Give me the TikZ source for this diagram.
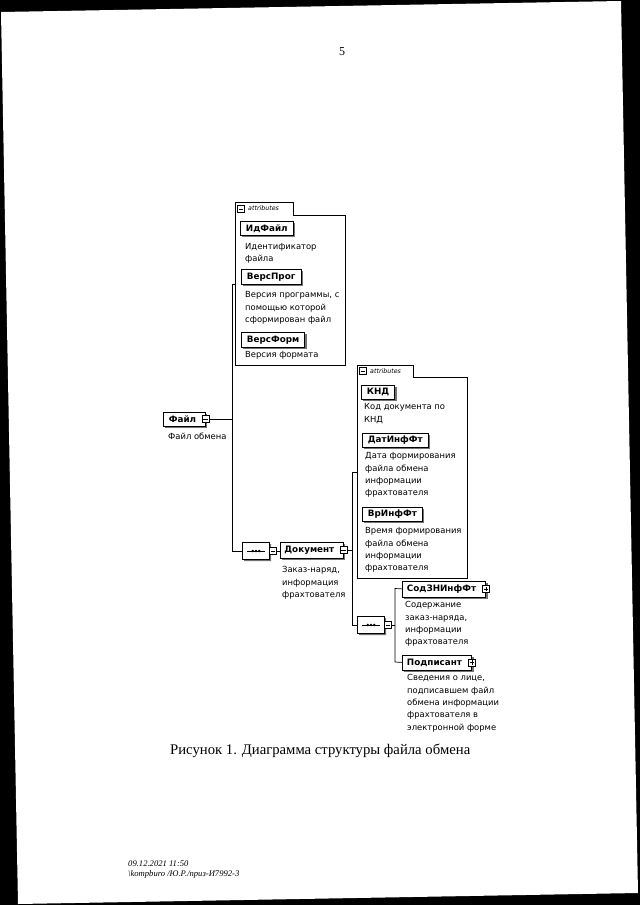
\documentclass[tikz,border=0pt]{standalone}
\usepackage{fontspec}
\setmainfont{Liberation Serif}
\newfontfamily\dg{DejaVu Sans}
\usetikzlibrary{shapes.misc,shadows,calc}
\begin{document}
\begin{tikzpicture}[x=1pt,y=-1pt,
  elem/.style={draw, line width=0.8pt, fill=white, font=\dg\bfseries\fontsize{8.8}{10}\selectfont,
    inner xsep=5.5pt, inner ysep=0pt, anchor=north west,
    drop shadow={shadow xshift=2pt, shadow yshift=-2pt, fill=black!55, opacity=1}},
  desc/.style={font=\dg\fontsize{8.4}{12.3}\selectfont, align=left, anchor=north west, inner sep=0pt},
  attrbox/.style={draw, line width=0.7pt},
  tabtxt/.style={font=\dg\itshape\fontsize{6.3}{7}\selectfont, anchor=west, inner sep=0pt},
  icon/.style={draw, line width=0.6pt, fill=white, minimum size=7pt, inner sep=0pt},
  seq/.style={draw, line width=0.8pt, fill=white, chamfered rectangle, chamfered rectangle xsep=3.5pt,
    minimum width=27pt, minimum height=17pt, inner sep=0pt,
    drop shadow={shadow xshift=1.5pt, shadow yshift=-1.5pt, fill=black!55, opacity=1}},
  conn/.style={line width=0.7pt}
]
\useasboundingbox (0,0) rectangle (640,905);
% scanned page
\fill[black] (0,0) rectangle (640,905);
\fill[white] (1,12) -- (621,1) -- (638,893) -- (18,904) -- cycle;

% page number
\node[font=\fontsize{12}{14}\selectfont] (pnum) at (342,52) {5};

% attributes box 1
\draw[attrbox] (235,365) -- (235,202) -- (293,202) -- (293,215) -- (345,215) -- (345,365) -- cycle;
\node[icon] (a1icon) at (241,209) {};
\draw[line width=0.5pt] ($(a1icon.center)+(-2.3,0)$) -- ($(a1icon.center)+(2.3,0)$);
\node[tabtxt] (a1tab) at (248,208.5) {attributes};
\node[elem, minimum height=14pt] (idfile) at (240,221) {ИдФайл};
\node[desc] (idfiled) at (245,243) {Идентификатор\\файла};
\node[elem, minimum height=15pt] (versprog) at (241,269) {ВерсПрог};
\node[desc] (versprogd) at (245,291.5) {Версия программы, с\\помощью которой\\сформирован файл};
\node[elem, minimum height=15pt] (versform) at (241,332) {ВерсФорм};
\node[desc] (versformd) at (245,351.5) {Версия формата};
\coordinate (a1in) at (235,284);

% Файл
\node[elem, minimum height=14pt] (file) at (163,411.5) {Файл\hspace{3.5pt}\mbox{}};
\node[icon] (fileicon) at (file.east) {};
\draw[line width=0.5pt] ($(fileicon.center)+(-2.3,0)$) -- ($(fileicon.center)+(2.3,0)$);
\node[desc] (filed) at (168,432.5) {Файл обмена};

% sequence 1
\node[seq] (seq1) at (256,551) {};
\draw[line width=0.9pt] ($(seq1.center)+(-9,0)$) -- ($(seq1.center)+(9,0)$);
\foreach \dx in {-3.2,0,3.2}{\fill ($(seq1.center)+(\dx,0)$) circle (1.4pt);}
\node[icon] (seq1icon) at (273,551) {};
\draw[line width=0.5pt] ($(seq1icon.center)+(-2.3,0)$) -- ($(seq1icon.center)+(2.3,0)$);

% Документ
\node[elem, minimum height=16pt, inner xsep=4pt] (doc) at (280,541.5) {Документ\hspace{5pt}\mbox{}};
\node[icon] (docicon) at (doc.east) {};
\draw[line width=0.5pt] ($(docicon.center)+(-2.3,0)$) -- ($(docicon.center)+(2.3,0)$);
\node[desc] (docd) at (282,566.5) {Заказ-наряд,\\информация\\фрахтователя};

% attributes box 2
\draw[attrbox] (357,578) -- (357,365) -- (413,365) -- (413,377) -- (467,377) -- (467,578) -- cycle;
\node[icon] (a2icon) at (363,371) {};
\draw[line width=0.5pt] ($(a2icon.center)+(-2.3,0)$) -- ($(a2icon.center)+(2.3,0)$);
\node[tabtxt] (a2tab) at (370,371) {attributes};
\node[elem, minimum height=14pt] (knd) at (361,384.5) {КНД};
\node[desc] (kndd) at (364,403.5) {Код документа по\\КНД};
\node[elem, minimum height=14pt] (dat) at (362,432.5) {ДатИнфФт};
\node[desc] (datd) at (365,452.5) {Дата формирования\\файла обмена\\информации\\фрахтователя};
\node[elem, minimum height=14pt] (vr) at (362,506.5) {ВрИнфФт};
\node[desc] (vrd) at (365,527.5) {Время формирования\\файла обмена\\информации\\фрахтователя};
\coordinate (a2in) at (357,472);

% sequence 2
\node[seq] (seq2) at (371,625) {};
\draw[line width=0.9pt] ($(seq2.center)+(-9,0)$) -- ($(seq2.center)+(9,0)$);
\foreach \dx in {-3.2,0,3.2}{\fill ($(seq2.center)+(\dx,0)$) circle (1.4pt);}
\node[icon] (seq2icon) at (388,625) {};
\draw[line width=0.5pt] ($(seq2icon.center)+(-2.3,0)$) -- ($(seq2icon.center)+(2.3,0)$);

% СодЗНИнфФт
\node[elem, minimum height=16pt, inner xsep=4.5pt] (sod) at (402,580.5) {СодЗНИнфФт\hspace{5pt}\mbox{}};
\node[icon] (sodicon) at (sod.east) {};
\draw[line width=0.5pt] ($(sodicon.center)+(-2.3,0)$) -- ($(sodicon.center)+(2.3,0)$);
\draw[line width=0.5pt] ($(sodicon.center)+(0,-2.3)$) -- ($(sodicon.center)+(0,2.3)$);
\node[desc] (sodd) at (405,601.5) {Содержание\\заказ-наряда,\\информации\\фрахтователя};

% Подписант
\node[elem, minimum height=15pt, inner xsep=4.5pt] (podp) at (402,654.5) {Подписант\hspace{5pt}\mbox{}};
\node[icon] (podpicon) at (podp.east) {};
\draw[line width=0.5pt] ($(podpicon.center)+(-2.3,0)$) -- ($(podpicon.center)+(2.3,0)$);
\draw[line width=0.5pt] ($(podpicon.center)+(0,-2.3)$) -- ($(podpicon.center)+(0,2.3)$);
\node[desc] (podpd) at (407,674.5) {Сведения о лице,\\подписавшем файл\\обмена информации\\фрахтователя в\\электронной форме};

% connectors
\coordinate (v1top) at (232,284);
\coordinate (v1bot) at (232,551);
\draw[conn] (fileicon.east) -- (fileicon.east -| v1top);
\draw[conn] (a1in) -- (v1top) -- (v1bot) -- (seq1.west);
\draw[conn] (seq1icon.east) -- (seq1icon.east -| doc.west);
\coordinate (v2top) at (352,472);
\coordinate (v2bot) at (352,625);
\draw[conn] (docicon.east) -- (docicon.east -| v2top);
\draw[conn] (a2in) -- (v2top) -- (v2bot) -- (seq2.west);
\coordinate (v3top) at (395,588.5);
\coordinate (v3bot) at (395,662);
\draw[conn] (seq2icon.east) -- (seq2icon.east -| v3top);
\draw[conn] (sod.west) -- (v3top) -- (v3bot) -- (podp.west);

% caption
\node[font=\fontsize{14.7}{17}\selectfont, anchor=west, inner sep=0pt] (caption) at (170,751) {Рисунок 1. Диаграмма структуры файла обмена};

% footer
\node[font=\itshape\fontsize{8.6}{9.3}\selectfont, align=left, anchor=north west, inner sep=0pt] (footer) at (128,861) {09.12.2021 11:50\\{\textbackslash}kompburo /Ю.Р./приз-И7992-3};
\end{tikzpicture}
\end{document}
